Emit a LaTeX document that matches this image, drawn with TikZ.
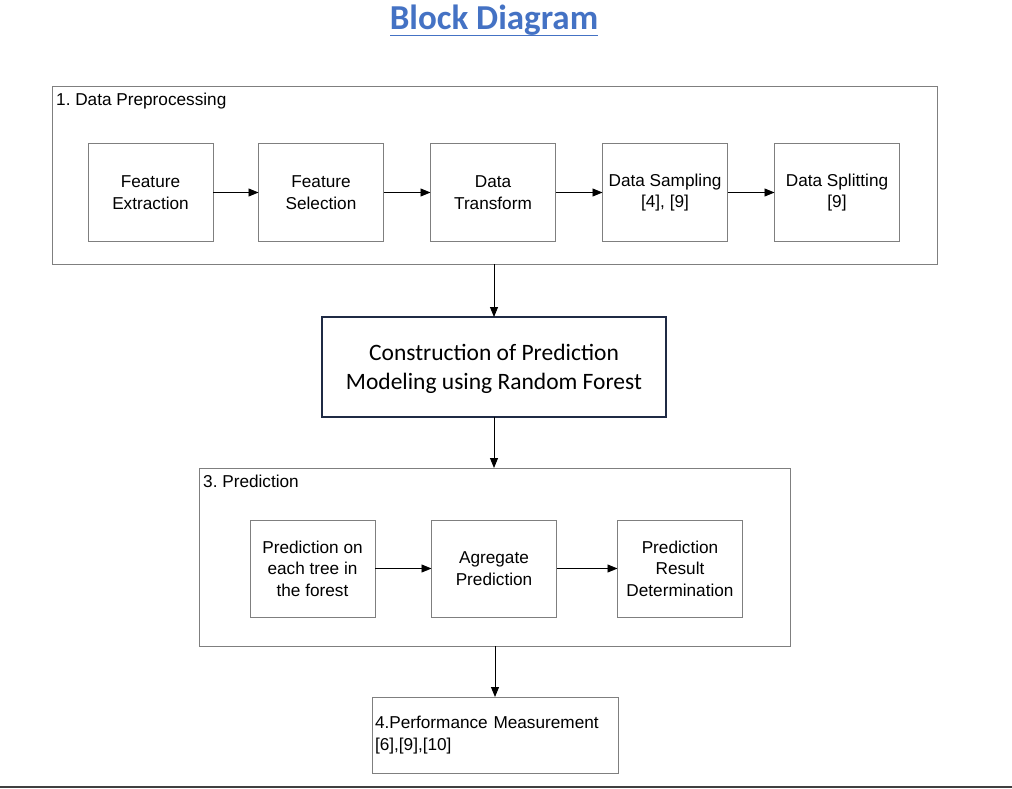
\documentclass[tikz,border=0pt]{standalone}
\usepackage{fontspec}
\setmainfont{Liberation Sans}
\newfontfamily\calibrifont{Carlito}
\usetikzlibrary{arrows.meta}
\definecolor{titleblue}{HTML}{4472C4}
\definecolor{boxgray}{HTML}{7F7F7F}
\definecolor{darkbox}{HTML}{1F2A44}
\frenchspacing
\tikzset{
  frame/.style={draw=boxgray, line width=1pt, inner sep=0pt, outer sep=0pt},
  stepbox/.style={draw=boxgray, line width=1pt, minimum width=125pt, minimum height=97pt,
    inner sep=2pt, outer sep=0pt, align=center, font=\fontsize{17.2}{21.5}\selectfont},
  grouplabel/.style={anchor=west, inner sep=0pt, font=\fontsize{17.2}{20}\selectfont},
  arr/.style={line width=0.9pt, -{Triangle[length=10pt,width=8pt]}}
}
\begin{document}
\begin{tikzpicture}[x=1pt,y=-1pt]
\useasboundingbox (0,0) rectangle (1012,789);
% title
\node[text=titleblue, font=\calibrifont\bfseries\fontsize{35}{40}\selectfont, inner sep=0pt] (title) at (494,20) {Block Diagram};
\draw[titleblue, line width=1.6pt] (390,35.5) coordinate (ul1) -- (598,35.5) coordinate (ul2);
% group 1
\node[frame, minimum width=885pt, minimum height=177pt] (pre) at (494.5,175.5) {};
\node[grouplabel] (prelab) at (56,101.5) {1. Data Preprocessing};
\node[stepbox] (fe) at (150.5,192.5) {Feature\\Extraction};
\node[stepbox] (fs) at (321,192.5) {Feature\\Selection};
\node[stepbox] (dt) at (493,192.5) {Data\\Transform};
\node[stepbox] (ds) at (665,192.5) {Data Sampling\\{[4], [9]}};
\node[stepbox] (dsp) at (837,192.5) {Data Splitting\\{[9]}};
\draw[arr] (fe) -- (fs);
\draw[arr] (fs) -- (dt);
\draw[arr] (dt) -- (ds);
\draw[arr] (ds) -- (dsp);
% model
\node[draw=darkbox, line width=1.1pt, minimum width=344pt, minimum height=100pt, inner sep=0pt, outer sep=0pt,
  align=center, font=\calibrifont\fontsize{23.5}{29}\selectfont, text depth=0pt] (model) at (494,367)
  {\raisebox{14pt}{\parbox{340pt}{\centering Construction of Prediction\\Modeling using Random Forest}}};
\draw[arr] (pre.south -| model.north) -- (model.north);
% group 3
\node[frame, minimum width=591pt, minimum height=178pt] (pred) at (494.5,557) {};
\node[grouplabel] (predlab) at (203,481.5) {3. Prediction};
\draw[arr] (model.south) -- (model.south |- pred.north);
\node[stepbox] (pt) at (312.5,568.5) {Prediction on\\each tree in\\the forest};
\node[stepbox] (ag) at (494,568.5) {Agregate\\Prediction};
\node[stepbox] (pr) at (680,568.5) {Prediction\\Result\\Determination};
\draw[arr] (pt) -- (ag);
\draw[arr] (ag) -- (pr);
% performance
\node[draw=boxgray, line width=1pt, text width=240pt, minimum height=76pt, inner xsep=3pt, inner ysep=0pt,
  outer sep=0pt, align=left, font=\fontsize{17.2}{22}\selectfont] (perf) at (495,735)
  {4.Performance Measurement\\{[6],[9],[10]}};
\draw[arr] (pred.south -| perf.north) -- (perf.north);
% bottom rule
\draw[black!75, line width=2pt] (0,787) coordinate (bl) -- (1012,787) coordinate (br);
\end{tikzpicture}
\end{document}
